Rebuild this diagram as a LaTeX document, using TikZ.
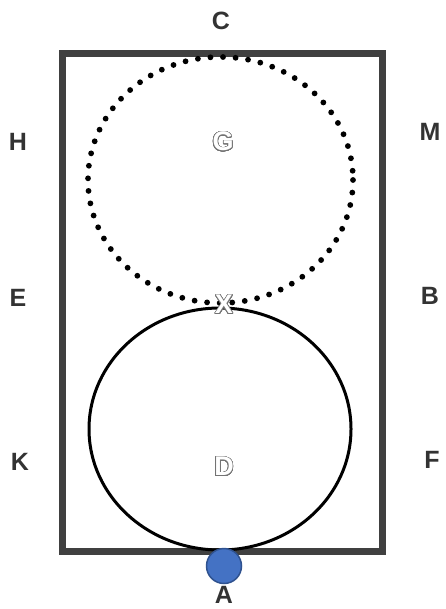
\documentclass[tikz,border=0pt]{standalone}
\usepackage{fontspec}
\setmainfont{Liberation Sans}
\usepackage{contour}
\contourlength{0.7pt}
\contournumber{32}
\definecolor{frame}{HTML}{404040}
\definecolor{lab}{HTML}{333333}
\definecolor{ablue}{HTML}{4472C4}
\definecolor{ablueb}{HTML}{2F528F}
\tikzset{
  lbl/.style={font=\fontsize{25}{29}\selectfont\bfseries, text=lab, inner sep=0pt},
  hollow/.style={font=\fontsize{27}{31}\selectfont\bfseries, inner sep=0pt},
  dotted ring/.style={line width=5.8pt, line cap=round, dash pattern=on 0pt off 12.6pt},
  solid ring/.style={line width=3pt},
}
\newcommand{\hollowtext}[1]{\contour{black!55}{\textcolor{white}{#1}}}
\begin{document}
\begin{tikzpicture}[x=1pt,y=-1pt]
\useasboundingbox (0,0) rectangle (446,609);
\node[draw=frame, line width=7pt, minimum width=319.5pt, minimum height=497.5pt, inner sep=0pt] (box) at (222.25,302.75) {};
\draw[dotted ring] (220.5,180) ellipse [x radius=132.5, y radius=123];
\draw[solid ring] (220,429) ellipse [x radius=131, y radius=121];
\node[hollow] (G) at (223,142) {\hollowtext{G}};
\node[hollow] (X) at (224,305) {\hollowtext{X}};
\node[hollow] (D) at (224,467) {\hollowtext{D}};
\node[circle, fill=ablue, draw=ablueb, line width=1.5pt, minimum size=35pt, inner sep=0pt] (dot) at (224,566) {};
\node[lbl] (C) at (221,21) {C};
\node[lbl] (H) at (18,142) {H};
\node[lbl] (M) at (430,132) {M};
\node[lbl] (E) at (18,298) {E};
\node[lbl] (B) at (430,296) {B};
\node[lbl] (K) at (20,462) {K};
\node[lbl] (F) at (432,460) {F};
\node[lbl] (A) at (224,595) {A};
\end{tikzpicture}
\end{document}
